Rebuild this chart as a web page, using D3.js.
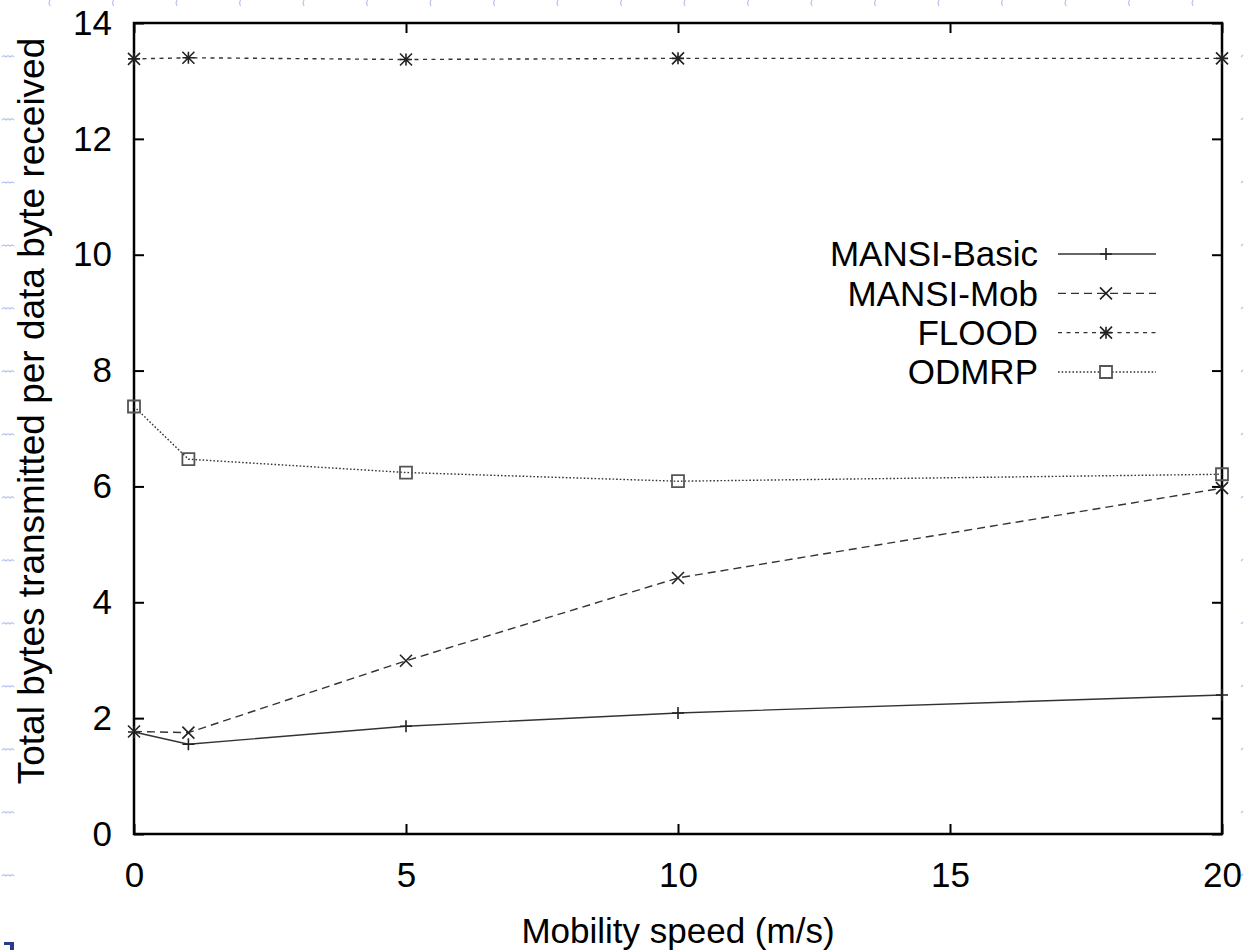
<!DOCTYPE html>
<html>
<head>
<meta charset="utf-8">
<script src="https://cdn.jsdelivr.net/npm/d3@7"></script>
<style>
  html, body { margin: 0; padding: 0; background: #fff; }
  svg { display: block; }
  text { font-family: "Liberation Sans", Arial, Helvetica, sans-serif; fill: #000; }
</style>
</head>
<body>
<svg id="chart" width="1244" height="950"></svg>
<script>
// Mobility speed (m/s) on the x axis
const speeds = [0, 1, 5, 10, 20];

// Total bytes transmitted per data byte received, one array per protocol
const mansiBasic = [1.76, 1.55, 1.86, 2.09, 2.40];
const mansiMob   = [1.77, 1.75, 2.99, 4.42, 5.97];
const flood      = [13.38, 13.40, 13.37, 13.39, 13.39];
const odmrp      = [7.38, 6.47, 6.24, 6.09, 6.21];

const seriesNames = ["MANSI-Basic", "MANSI-Mob", "FLOOD", "ODMRP"];
const xTicks = [0, 5, 10, 15, 20];
const yTicks = [0, 2, 4, 6, 8, 10, 12, 14];
const xTitle = "Mobility speed (m/s)";
const yTitle = "Total bytes transmitted per data byte received";

const series = [
  { name: seriesNames[0], values: mansiBasic, dash: null,    marker: "plus" },
  { name: seriesNames[1], values: mansiMob,   dash: "8,5",   marker: "cross" },
  { name: seriesNames[2], values: flood,      dash: "4,4.5", marker: "star" },
  { name: seriesNames[3], values: odmrp,      dash: "1.6,2", marker: "square" }
];

const svg = d3.select("#chart");
const plotLeft = 134, plotRight = 1222, plotTop = 23, plotBottom = 834;

const x = d3.scaleLinear().domain([0, 20]).range([plotLeft, plotRight]);
const y = d3.scaleLinear().domain([0, 14]).range([plotBottom, plotTop]);

// faint slide-template marks along the page edges
const deco = svg.append("g").attr("stroke", "#b8c4f0").attr("stroke-width", 1.2).attr("fill", "none");
d3.range(57, 900, 63).forEach(v => {
  deco.append("path").attr("d", `M2,${v}q2,-2 4,0q2,-2 4,0q2,-2 4,0`);
  deco.append("path").attr("d", `M1241,${v}l2,-2`);
});
d3.range(50, 1244, 63.5).forEach(v => {
  deco.append("path").attr("d", `M${v},0l-1,3l1,3`);
});
svg.append("path").attr("d", "M4,942h10v8h-4v-5h-6z").attr("fill", "#2a3a8c");

const fontSize = 35;

// axes with inward ticks, labels on the left and bottom
const axisStyle = g => {
  g.select(".domain").remove();
  g.selectAll(".tick line").attr("stroke", "#000").attr("stroke-width", 2);
  g.selectAll("text")
    .style("font-family", "'Liberation Sans', Arial, sans-serif")
    .style("font-size", fontSize + "px")
    .attr("fill", "#000");
};

svg.append("g")
  .attr("transform", `translate(${plotLeft},0)`)
  .call(d3.axisLeft(y).tickValues(yTicks).tickSizeInner(-10).tickSizeOuter(0).tickPadding(22).tickFormat(d3.format("d")))
  .call(axisStyle);

svg.append("g")
  .attr("transform", `translate(0,${plotBottom})`)
  .call(d3.axisBottom(x).tickValues(xTicks).tickSizeInner(-10).tickSizeOuter(0).tickPadding(28).tickFormat(d3.format("d")))
  .call(axisStyle);

svg.append("g")
  .attr("transform", `translate(${plotRight},0)`)
  .call(d3.axisRight(y).tickValues(yTicks).tickSizeInner(-10).tickSizeOuter(0).tickFormat(""))
  .call(axisStyle);

svg.append("g")
  .attr("transform", `translate(0,${plotTop})`)
  .call(d3.axisTop(x).tickValues(xTicks).tickSizeInner(-10).tickSizeOuter(0).tickFormat(""))
  .call(axisStyle);

// plot frame
svg.append("rect")
  .attr("x", plotLeft).attr("y", plotTop)
  .attr("width", plotRight - plotLeft).attr("height", plotBottom - plotTop)
  .attr("fill", "none").attr("stroke", "#000").attr("stroke-width", 2.5);

// axis titles
svg.append("text")
  .attr("x", (plotLeft + plotRight) / 2).attr("y", 943)
  .attr("text-anchor", "middle")
  .style("font-size", fontSize + "px")
  .text(xTitle);

svg.append("text")
  .attr("transform", "translate(44,411) rotate(-90)")
  .attr("text-anchor", "middle")
  .style("font-size", "37px")
  .text(yTitle);

// point markers drawn as stroked glyphs
const s = 6;
const markerPath = {
  plus:   `M${-s},0H${s}M0,${-s}V${s}`,
  cross:  `M${-s},${-s}L${s},${s}M${-s},${s}L${s},${-s}`,
  star:   `M${-s},0H${s}M0,${-s}V${s}M${-s},${-s}L${s},${s}M${-s},${s}L${s},${-s}`,
  square: `M${-s},${-s}H${s}V${s}H${-s}Z`
};

const lineColor = "#333";
const line = d3.line().x(d => x(d[0])).y(d => y(d[1]));

const plot = svg.append("g");
series.forEach(sr => {
  const pts = speeds.map((v, i) => [v, sr.values[i]]);
  plot.append("path")
    .datum(pts)
    .attr("d", line)
    .attr("fill", "none")
    .attr("stroke", lineColor)
    .attr("stroke-width", 1.4)
    .attr("stroke-dasharray", sr.dash);
  plot.selectAll(null)
    .data(pts)
    .join("path")
    .attr("transform", d => `translate(${x(d[0])},${y(d[1])})`)
    .attr("d", markerPath[sr.marker])
    .attr("fill", "none")
    .attr("stroke", sr.marker === "square" ? "#555" : "#222")
    .attr("stroke-width", sr.marker === "square" ? 1.8 : 1.6);
});

// legend: right-aligned names with a sample line and marker
const legend = svg.append("g");
const legendRowY = d3.scalePoint().domain(seriesNames).range([254, 372]);
series.forEach(sr => {
  const ly = legendRowY(sr.name);
  legend.append("text")
    .attr("x", 1038).attr("y", ly)
    .attr("dy", "0.35em")
    .attr("text-anchor", "end")
    .style("font-size", fontSize + "px")
    .text(sr.name);
  legend.append("line")
    .attr("x1", 1058).attr("x2", 1156)
    .attr("y1", ly).attr("y2", ly)
    .attr("stroke", lineColor)
    .attr("stroke-width", 1.4)
    .attr("stroke-dasharray", sr.dash);
  legend.append("path")
    .attr("transform", `translate(1106,${ly})`)
    .attr("d", markerPath[sr.marker])
    .attr("fill", sr.marker === "square" ? "#fff" : "none")
    .attr("stroke", sr.marker === "square" ? "#555" : "#222")
    .attr("stroke-width", sr.marker === "square" ? 1.8 : 1.6);
});
</script>
</body>
</html>
